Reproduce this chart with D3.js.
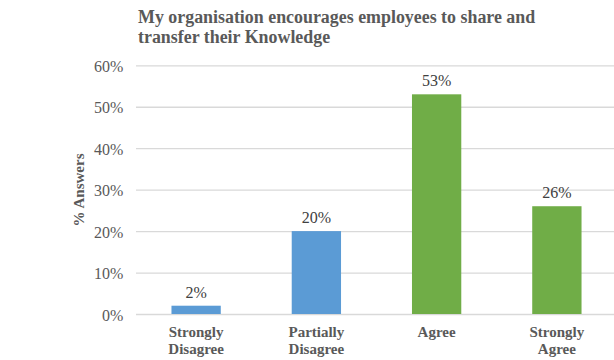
<!DOCTYPE html>
<html>
<head>
<meta charset="utf-8">
<script src="https://cdn.jsdelivr.net/npm/d3@7"></script>
<style>
  html, body { margin: 0; padding: 0; background: #fff; }
  svg { display: block; }
  svg text { font-family: "Liberation Serif", "Times New Roman", Tinos, Times, "DejaVu Serif", serif; }
</style>
</head>
<body>
<script>
// Survey responses
const categories = [["Strongly", "Disagree"], ["Partially", "Disagree"], ["Agree"], ["Strongly", "Agree"]];
const values = [2, 20, 53, 26];
const barColors = ["#5B9BD5", "#5B9BD5", "#70AD47", "#70AD47"];
const yTicks = [0, 10, 20, 30, 40, 50, 60];
const titleLines = ["My organisation encourages employees to share and", "transfer their Knowledge"];
const yAxisTitle = "% Answers";

const width = 614, height = 360;
const margin = { left: 136, right: -3, top: 65.3, bottom: 46 };

const svg = d3.select("body").append("svg")
  .attr("width", width)
  .attr("height", height);

const x = d3.scaleBand()
  .domain(d3.range(categories.length))
  .range([margin.left, width - margin.right])
  .paddingInner(0.59)
  .paddingOuter(0.295);

const y = d3.scaleLinear()
  .domain([0, 60])
  .range([height - margin.bottom, margin.top]);

// Title
svg.append("text")
  .attr("font-weight", "bold")
  .attr("font-size", 17.9)
  .attr("fill", "#595959")
  .selectAll("tspan")
  .data(titleLines)
  .join("tspan")
  .attr("x", 138)
  .attr("y", (d, i) => 22.7 + i * 20.7)
  .text(d => d);

// Gridlines and y tick labels
const yAxis = d3.axisLeft(y)
  .tickValues(yTicks)
  .tickSize(-(width - margin.right - margin.left))
  .tickPadding(12.7)
  .tickFormat(d => d + "%");

const gy = svg.append("g")
  .attr("transform", `translate(${margin.left},0)`)
  .call(yAxis);
gy.select(".domain").remove();
gy.selectAll(".tick line").attr("stroke", "#D9D9D9").attr("stroke-width", 1.3);
gy.selectAll(".tick text")
  .attr("font-size", 16)
  .attr("dy", "0.38em")
  .attr("fill", "#595959");

// Y axis title
svg.append("text")
  .attr("transform", `translate(83.5,190) rotate(-90)`)
  .attr("text-anchor", "middle")
  .attr("font-weight", "bold")
  .attr("font-size", 15)
  .attr("fill", "#595959")
  .text(yAxisTitle);

// Bars
svg.append("g")
  .selectAll("rect")
  .data(values)
  .join("rect")
  .attr("x", (d, i) => x(i))
  .attr("y", d => y(d))
  .attr("width", x.bandwidth())
  .attr("height", d => y(0) - y(d))
  .attr("fill", (d, i) => barColors[i]);

// Value labels
svg.append("g")
  .selectAll("text")
  .data(values)
  .join("text")
  .attr("x", (d, i) => x(i) + x.bandwidth() / 2)
  .attr("y", d => y(d) - 8)
  .attr("text-anchor", "middle")
  .attr("font-size", 16)
  .attr("fill", "#404040")
  .text(d => d + "%");

// Category labels
const gx = svg.append("g")
  .attr("transform", `translate(0,${y(0)})`)
  .call(d3.axisBottom(x).tickSize(0).tickFormat(() => ""));
gx.select(".domain").remove();
gx.selectAll(".tick text")
  .attr("font-weight", "bold")
  .attr("font-size", 15)
  .attr("fill", "#595959")
  .attr("dy", null)
  .attr("y", 0)
  .each(function(d) {
    d3.select(this).selectAll("tspan")
      .data(categories[d])
      .join("tspan")
      .attr("x", 0)
      .attr("y", (t, i) => 23.3 + i * 16.8)
      .text(t => t);
  });
</script>
</body>
</html>
